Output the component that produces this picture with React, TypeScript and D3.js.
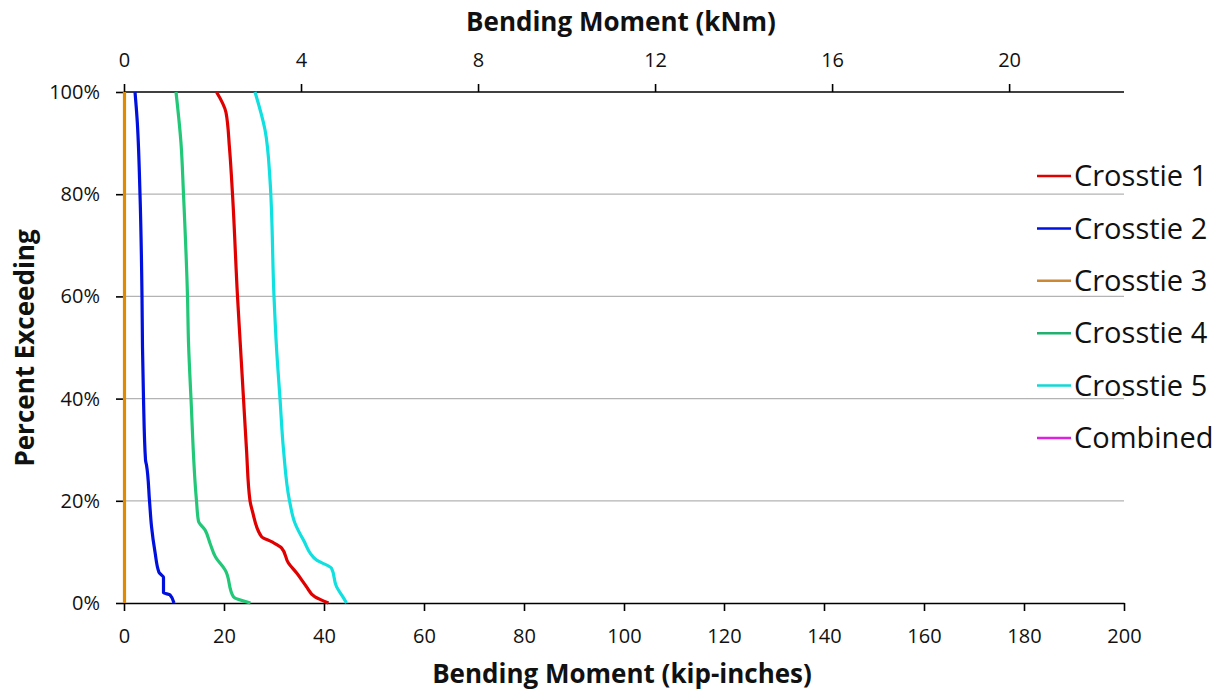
import React, { useEffect, useRef } from "react";
import * as d3 from "d3";

// percent exceeding vs bending moment (kip-in)
interface Pt {
  p: number;
  m: number;
}

const crosstie1: Pt[] = [
  { p: 100, m: 18.5 }, { p: 96, m: 20.4 }, { p: 89, m: 21.1 }, { p: 80, m: 21.7 },
  { p: 60, m: 22.7 }, { p: 50, m: 23.3 }, { p: 40, m: 23.9 }, { p: 30, m: 24.5 },
  { p: 20, m: 25.2 }, { p: 17.9, m: 25.7 }, { p: 13, m: 27.5 }, { p: 12, m: 29.5 },
  { p: 10.8, m: 31.5 }, { p: 7.8, m: 32.9 }, { p: 5.9, m: 34.5 }, { p: 3.2, m: 36.5 },
  { p: 1.2, m: 38.2 }, { p: 0, m: 40.9 },
];

const crosstie2: Pt[] = [
  { p: 100, m: 2.2 }, { p: 95, m: 2.6 }, { p: 80, m: 3.2 }, { p: 60, m: 3.6 },
  { p: 50, m: 3.7 }, { p: 40, m: 3.9 }, { p: 28, m: 4.3 }, { p: 27, m: 4.5 },
  { p: 20, m: 5.1 }, { p: 15, m: 5.5 }, { p: 10, m: 6.2 }, { p: 6, m: 7.0 },
  { p: 5, m: 7.9 }, { p: 2, m: 7.9 }, { p: 1.6, m: 9.2 }, { p: 0, m: 10.0 },
];

const crosstie3: Pt[] = [
  { p: 100, m: 0.1 }, { p: 0, m: 0.1 },
];

const crosstie4: Pt[] = [
  { p: 100, m: 10.4 }, { p: 90, m: 11.4 }, { p: 80, m: 11.9 }, { p: 60, m: 12.7 },
  { p: 51, m: 12.9 }, { p: 40, m: 13.4 }, { p: 20, m: 14.5 }, { p: 16, m: 14.9 },
  { p: 14.3, m: 16.2 }, { p: 11.7, m: 17.2 }, { p: 9, m: 18.3 }, { p: 6.5, m: 20.2 },
  { p: 1.2, m: 21.9 }, { p: 0, m: 25.3 },
];

const crosstie5: Pt[] = [
  { p: 100, m: 26.2 }, { p: 92.6, m: 28.2 }, { p: 82.8, m: 29.2 }, { p: 60, m: 30.0 },
  { p: 50, m: 30.5 }, { p: 40, m: 31.2 }, { p: 30, m: 31.9 }, { p: 20, m: 33.1 },
  { p: 15.6, m: 34.2 }, { p: 12.3, m: 35.9 }, { p: 8.4, m: 38.5 }, { p: 6.8, m: 41.5 },
  { p: 3.2, m: 42.5 }, { p: 1, m: 43.9 }, { p: 0, m: 44.5 },
];

const combined: Pt[] = [];

const seriesNames = ["Crosstie 1", "Crosstie 2", "Crosstie 3", "Crosstie 4", "Crosstie 5", "Combined"];
const seriesData = [crosstie1, crosstie2, crosstie3, crosstie4, crosstie5, combined];
const lineColors = ["#e00000", "#0010dd", "#e08a00", "#22c878", "#10e0e0", "#e020e0"];
const legendColors = ["#e00000", "#0010dd", "#cc8833", "#22b070", "#10d8d8", "#e020e0"];

const bottomTicks = [0, 20, 40, 60, 80, 100, 120, 140, 160, 180, 200];
const topTicks = [0, 4, 8, 12, 16, 20];
const yTicks = [0, 20, 40, 60, 80, 100];

const KNM_PER_KIPIN = 0.11298;
const FONT = "'Open Sans', Lato, sans-serif";

const App: React.FC = () => {
  const svgRef = useRef<SVGSVGElement | null>(null);

  useEffect(() => {
    if (!svgRef.current) return;
    const svg = d3.select(svgRef.current);
    svg.selectAll("*").remove();

    const left = 124, right = 1124, top = 92, bottom = 603;

    const x = d3.scaleLinear().domain([0, 200]).range([left, right]);
    const xTop = d3.scaleLinear().domain([0, 200 * KNM_PER_KIPIN]).range([left, right]);
    const y = d3.scaleLinear().domain([0, 100]).range([bottom, top]);

    // gridlines
    svg.append("g")
      .selectAll("line")
      .data(yTicks.filter(t => t > 0 && t < 100))
      .enter()
      .append("line")
      .attr("x1", left)
      .attr("x2", right)
      .attr("y1", d => y(d))
      .attr("y2", d => y(d))
      .attr("stroke", "#b3b3b3")
      .attr("stroke-width", 1.2);

    const styleAxis = (g: d3.Selection<SVGGElement, unknown, null, undefined>) => {
      g.select(".domain").attr("stroke", "#000").attr("stroke-width", 1.6);
      g.selectAll(".tick line").attr("stroke", "#000").attr("stroke-width", 1.6);
      g.selectAll(".tick text")
        .attr("fill", "#111")
        .style("font-family", FONT)
        .style("font-size", "20px");
    };

    // bottom axis
    const gb = svg.append("g")
      .attr("transform", `translate(0, ${bottom})`)
      .call(d3.axisBottom(x).tickValues(bottomTicks).tickSize(8).tickSizeOuter(0).tickPadding(18));
    styleAxis(gb);

    // top axis
    const gt = svg.append("g")
      .attr("transform", `translate(0, ${top})`)
      .call(d3.axisTop(xTop).tickValues(topTicks).tickSize(8).tickSizeOuter(0).tickPadding(17));
    gt.select(".domain").attr("d", `M${left},0H${right}`);
    styleAxis(gt);

    // left axis
    const gl = svg.append("g")
      .attr("transform", `translate(${left}, 0)`)
      .call(d3.axisLeft(y).tickValues(yTicks).tickFormat(d => `${d}%`).tickSize(8).tickSizeOuter(0).tickPadding(16));
    styleAxis(gl);

    // series lines
    const line = d3.line<Pt>().x(d => x(d.m)).y(d => y(d.p)).curve(d3.curveMonotoneY);
    seriesData.forEach((data, i) => {
      if (data.length === 0) return;
      svg.append("path")
        .datum(data)
        .attr("d", line)
        .attr("fill", "none")
        .attr("stroke", lineColors[i])
        .attr("stroke-width", 3.2)
        .attr("stroke-linejoin", "round");
    });

    // legend
    const lg = svg.append("g");
    seriesNames.forEach((name, i) => {
      const ly = 176 + i * 52.4;
      lg.append("line")
        .attr("x1", 1037)
        .attr("x2", 1071)
        .attr("y1", ly)
        .attr("y2", ly)
        .attr("stroke", legendColors[i])
        .attr("stroke-width", 2.5);
      lg.append("text")
        .attr("x", 1074)
        .attr("y", ly)
        .attr("dy", "0.35em")
        .style("font-family", FONT)
        .style("font-size", "29px")
        .attr("fill", "#111")
        .text(name);
    });

    // titles
    const title = (txt: string) =>
      svg.append("text")
        .attr("text-anchor", "middle")
        .style("font-family", FONT)
        .style("font-size", "26px")
        .style("font-weight", "bold")
        .attr("fill", "#111")
        .text(txt);

    title("Bending Moment (kip-inches)").attr("x", 622).attr("y", 683);
    title("Bending Moment (kNm)").attr("x", 621).attr("y", 31);
    title("Percent Exceeding").attr("transform", `translate(34, 348) rotate(-90)`);
  }, []);

  return (
    <svg
      ref={svgRef}
      width={1228}
      height={691}
      style={{ position: "absolute", left: 0, top: 0, background: "#fff" }}
    />
  );
};

export default App;
